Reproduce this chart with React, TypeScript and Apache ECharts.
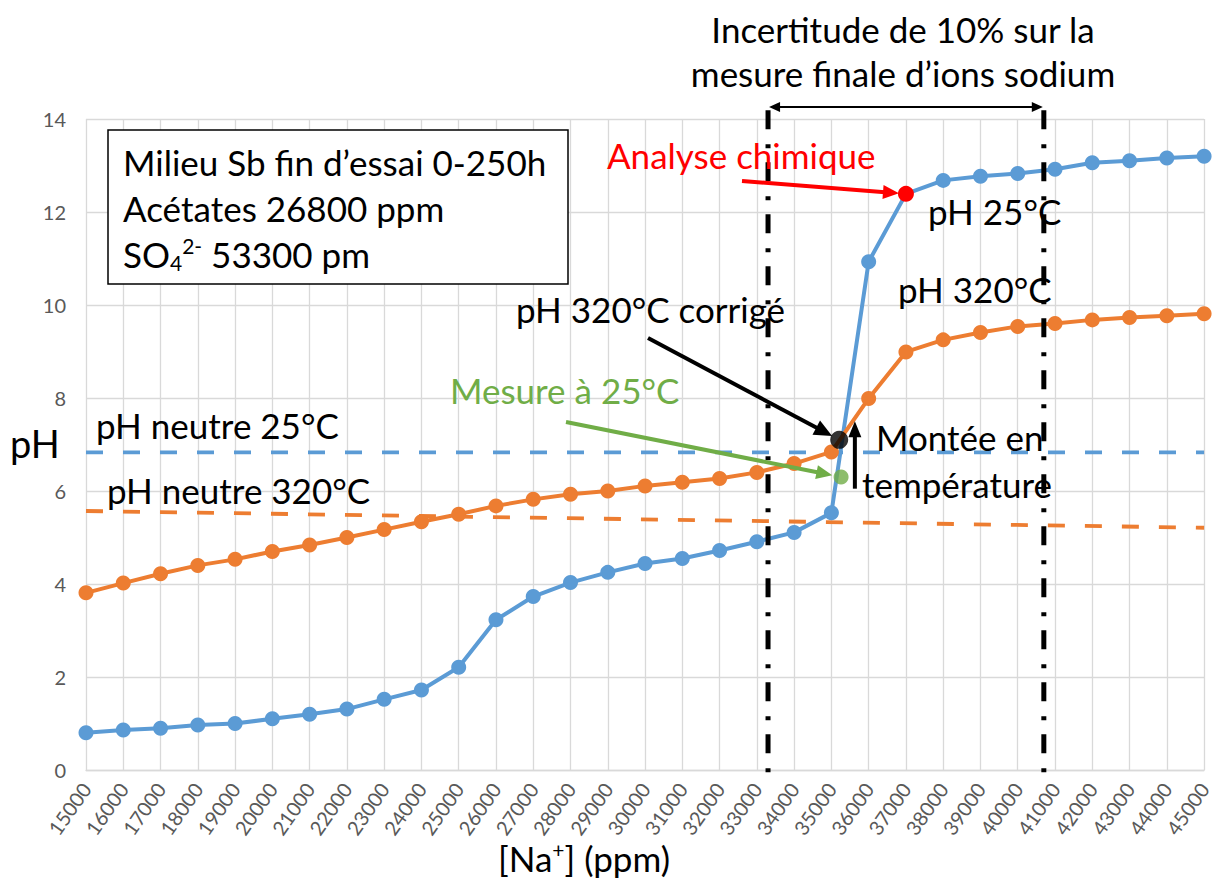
import React, { useEffect, useRef } from "react";
import * as echarts from "echarts";

// ---- data ----
const naPpm = [15000, 16000, 17000, 18000, 19000, 20000, 21000, 22000, 23000, 24000, 25000, 26000, 27000, 28000, 29000, 30000, 31000, 32000, 33000, 34000, 35000, 36000, 37000, 38000, 39000, 40000, 41000, 42000, 43000, 44000, 45000];
const ph25 = [0.80, 0.86, 0.90, 0.97, 1.00, 1.10, 1.20, 1.31, 1.52, 1.72, 2.21, 3.23, 3.73, 4.03, 4.25, 4.44, 4.55, 4.72, 4.91, 5.11, 5.53, 10.93, 12.39, 12.68, 12.77, 12.83, 12.92, 13.06, 13.10, 13.16, 13.20];
const ph320 = [3.81, 4.02, 4.22, 4.40, 4.53, 4.70, 4.84, 5.00, 5.17, 5.34, 5.50, 5.68, 5.82, 5.93, 6.00, 6.11, 6.19, 6.27, 6.40, 6.59, 6.84, 7.99, 8.99, 9.25, 9.41, 9.54, 9.60, 9.68, 9.73, 9.77, 9.81];
const neutral25 = [[15000, 6.83], [45000, 6.83]];
const neutral320 = [[15000, 5.57], [45000, 5.21]];
const analyseNa = 37000; // chemical analysis point (on pH 25°C curve)
const uncertaintyBounds = [33300, 40700];
const uncertaintyPhSpan = [14.19, -0.11];
const correctedPoint = [35210, 7.1];
const measured25Point = [35260, 6.3];
const riseArrow = [[35630, 6.05], [35630, 7.5]];
const yTicks = { min: 0, max: 14, interval: 2 };
const xTicks = { min: 15000, max: 45000, interval: 1000 };

const FONT = "Lato";
const BLUE = "#5b9bd5";
const ORANGE = "#ed7d31";
const GREEN = "#70ad47";
const RED = "#ff0000";
const GRID = "#d9d9d9";
const AXIS_TXT = "#595959";
const BIG = 35;

function arrow(from: number[], to: number[], color: string, width: number, headLen: number, headW: number, z = 100) {
  const dx = to[0] - from[0];
  const dy = to[1] - from[1];
  const len = Math.hypot(dx, dy);
  const ux = dx / len, uy = dy / len;
  const bx = to[0] - ux * headLen, by = to[1] - uy * headLen;
  const nx = -uy, ny = ux;
  return [
    { type: "line", z, silent: true, shape: { x1: from[0], y1: from[1], x2: bx + ux * 2, y2: by + uy * 2 }, style: { stroke: color, lineWidth: width } },
    { type: "polygon", z, silent: true, shape: { points: [[to[0], to[1]], [bx + nx * headW / 2, by + ny * headW / 2], [bx - nx * headW / 2, by - ny * headW / 2]] }, style: { fill: color } },
  ];
}
function back(center: number[], from: number[], r: number) {
  const dx = center[0] - from[0], dy = center[1] - from[1];
  const len = Math.hypot(dx, dy);
  return [center[0] - dx / len * r, center[1] - dy / len * r];
}
function txt(text: string, x: number, y: number, opts: any = {}) {
  return {
    type: "text", z: 110, silent: true, x, y,
    style: {
      text, fill: opts.color || "#000", fontSize: opts.size || BIG, fontFamily: FONT,
      align: opts.align || "left", verticalAlign: "middle", rich: opts.rich,
    },
  };
}

export default function App() {
  const ref = useRef<HTMLDivElement>(null);
  useEffect(() => {
    document.body.style.margin = "0";
    const chart = echarts.init(ref.current!, null, { renderer: "svg" });
    const blueData = naPpm.map((x, i) => {
      if (x === analyseNa) return { value: [x, ph25[i]], itemStyle: { color: RED }, symbolSize: 16 };
      return [x, ph25[i]];
    });
    const orangeData = naPpm.map((x, i) => [x, ph320[i]]);
    chart.setOption({
      animation: false,
      grid: { left: 86, right: 4, top: 119, bottom: 111, containLabel: false },
      xAxis: {
        type: "value", min: xTicks.min, max: xTicks.max, interval: xTicks.interval,
        axisLine: { show: true, lineStyle: { color: GRID, width: 1.3 } },
        axisTick: { show: false },
        splitLine: { show: true, lineStyle: { color: GRID, width: 1.3 } },
        axisLabel: { rotate: 55, fontSize: 20, color: AXIS_TXT, fontFamily: FONT, margin: 15, formatter: (v: number) => String(v) },
      },
      yAxis: {
        type: "value", min: yTicks.min, max: yTicks.max, interval: yTicks.interval,
        axisLine: { show: false }, axisTick: { show: false },
        splitLine: { show: true, lineStyle: { color: GRID, width: 1.3 } },
        axisLabel: { fontSize: 20, color: AXIS_TXT, fontFamily: FONT, margin: 20 },
      },
      series: [
        { type: "line", data: neutral25, symbol: "none", lineStyle: { color: BLUE, width: 3.8, type: [17, 20] }, z: 2 },
        { type: "line", data: neutral320, symbol: "none", lineStyle: { color: ORANGE, width: 3.8, type: [17, 20] }, z: 2 },
        { type: "line", data: blueData, symbol: "circle", symbolSize: 15, itemStyle: { color: BLUE }, lineStyle: { color: BLUE, width: 4 }, z: 3 },
        { type: "line", data: orangeData, symbol: "circle", symbolSize: 15, itemStyle: { color: ORANGE }, lineStyle: { color: ORANGE, width: 4 }, z: 4 },
        ...uncertaintyBounds.map((b) => ({
          type: "line", clip: false, symbol: "none", z: 6,
          data: [[b, uncertaintyPhSpan[0]], [b, uncertaintyPhSpan[1]]],
          lineStyle: { color: "#000", width: 5, type: [19, 15, 4, 14], cap: "butt" },
        })),
        { type: "scatter", data: [correctedPoint], symbolSize: 18, itemStyle: { color: "#000" }, z: 7 },
        { type: "scatter", data: [measured25Point], symbolSize: 15, itemStyle: { color: GREEN }, z: 7 },
      ],
    });

    const P = (p: number[]) => chart.convertToPixel({ gridIndex: 0 }, p) as number[];
    const redC = P([analyseNa, ph25[naPpm.indexOf(analyseNa)]]);
    const blackC = P(correctedPoint);
    const greenC = P(measured25Point);
    const redFrom = [742, 181];
    const blackFrom = [648, 338];
    const greenFrom = [566, 422];
    const riseA = P(riseArrow[0]);
    const riseB = P(riseArrow[1]);
    const bL = P([uncertaintyBounds[0], 0]);
    const bR = P([uncertaintyBounds[1], 0]);
    const yArr = 107;

    const sup = { fontSize: 21, fontFamily: FONT, fill: "#000", verticalAlign: "top", lineHeight: 26 };
    const sub = { fontSize: 21, fontFamily: FONT, fill: "#000", verticalAlign: "bottom", lineHeight: 22 };
    const main = { fontSize: BIG, fontFamily: FONT, fill: "#000", lineHeight: 38 };

    chart.setOption({
      graphic: [
        { type: "rect", z: 105, silent: true, shape: { x: 108, y: 130, width: 460, height: 154 }, style: { fill: "#fff", stroke: "#000", lineWidth: 1.5 } },
        txt("Milieu Sb fin d\u2019essai 0-250h", 123, 162),
        txt("Acétates 26800 ppm", 123, 208),
        txt("{m|SO}{b|4}{p|2-}{m| 53300 pm}", 123, 254, { rich: { m: main, b: sub, p: sup } }),
        txt("Incertitude de 10% sur la", 903, 29, { align: "center" }),
        txt("mesure finale d\u2019ions sodium", 903, 73, { align: "center" }),
        txt("Analyse chimique", 607, 155, { color: RED }),
        txt("pH 25°C", 928, 211),
        txt("pH 320°C", 898, 289),
        txt("pH 320°C corrigé", 516, 309),
        txt("Mesure à 25°C", 450, 390, { color: GREEN }),
        txt("pH neutre 25°C", 96, 425),
        txt("pH neutre 320°C", 107, 490),
        txt("Montée en", 876, 437),
        txt("température", 862, 484),
        txt("pH", 10, 443, { size: 38 }),
        txt("{m|[Na}{p|+}{m|] (ppm)}", 584, 858, { align: "center", rich: { m: main, p: sup } }),
        ...arrow(redFrom, back(redC, redFrom, 7), RED, 4, 16, 14),
        ...arrow(blackFrom, back(blackC, blackFrom, 8), "#000", 4, 18, 16),
        ...arrow(greenFrom, back(greenC, greenFrom, 9), GREEN, 4, 16, 14),
        ...arrow(riseA, riseB, "#000", 4, 16, 13),
        { type: "line", z: 100, silent: true, shape: { x1: bL[0] + 6, y1: yArr, x2: bR[0] - 6, y2: yArr }, style: { stroke: "#000", lineWidth: 2 } },
        { type: "polygon", z: 100, silent: true, shape: { points: [[bL[0] + 1, yArr], [bL[0] + 12, yArr - 5], [bL[0] + 12, yArr + 5]] }, style: { fill: "#000" } },
        { type: "polygon", z: 100, silent: true, shape: { points: [[bR[0] - 1, yArr], [bR[0] - 12, yArr - 5], [bR[0] - 12, yArr + 5]] }, style: { fill: "#000" } },
      ],
    });
    return () => chart.dispose();
  }, []);
  return <div ref={ref} style={{ width: 1214, height: 881 }} />;
}
